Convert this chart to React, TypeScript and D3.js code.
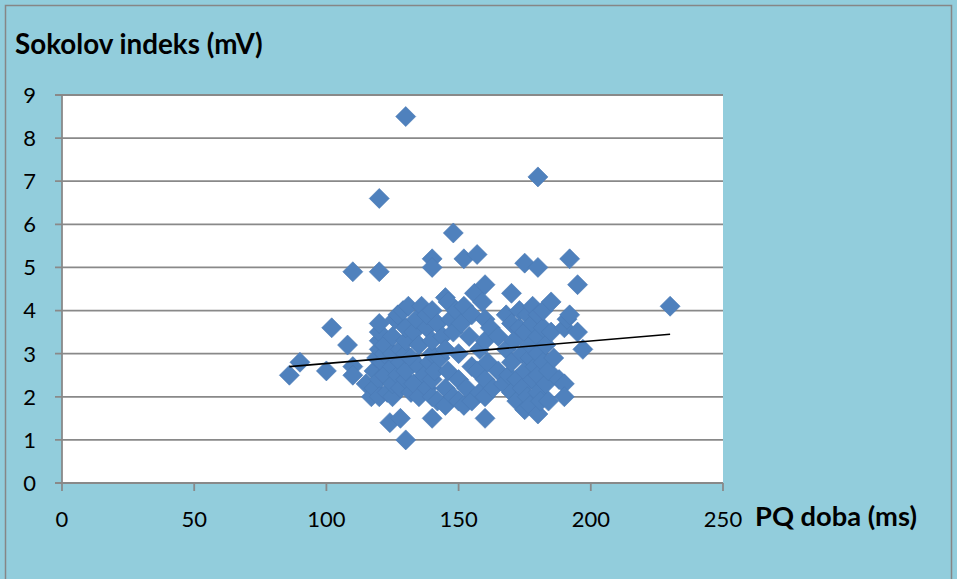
import React from 'react';
import * as d3 from 'd3';

// PQ doba (ms) vs Sokolov indeks (mV)
const pq = [
  86, 90, 100, 102, 108, 110, 110, 110,
  115, 117, 118, 118, 119, 120, 120, 120, 120, 120, 120, 121, 122, 120, 120, 122, 123, 122,
  124, 125, 125, 125, 125, 125, 126, 127, 127, 128, 128, 128, 128, 129, 130, 130, 130, 130, 130, 130, 130,
  131, 132, 132, 133, 133, 134, 135, 135, 135, 136, 137, 138, 138, 138, 139,
  140, 140, 140, 140, 140, 140, 140, 140, 141, 142, 142, 143, 144, 145, 145, 145, 145, 146, 146, 147,
  148, 148, 148, 149, 150, 150, 150, 151, 152, 152, 152, 153, 154, 155, 155, 155, 156, 157, 157, 158, 158, 159,
  160, 160, 160, 160, 160, 160, 161, 162, 163, 165, 165, 167, 168, 168, 169,
  170, 170, 170, 170, 171, 172, 172, 173, 173, 174, 174, 175, 175, 175, 175, 176, 176, 177, 177, 177,
  178, 178, 178, 179, 180, 180, 180, 180, 180, 180, 180, 180, 181, 182, 182, 182, 183, 183, 184, 184,
  185, 185, 186, 188, 190, 190, 190, 191, 192, 192, 195, 195, 197, 230,
];
const sokolov = [
  2.5, 2.8, 2.6, 3.6, 3.2, 2.7, 2.5, 4.9,
  2.3, 2.0, 2.2, 2.6, 2.9, 3.1, 3.3, 3.5, 3.7, 2.4, 2.0, 2.8, 3.0, 4.9, 6.6, 3.2, 2.1, 2.5,
  1.4, 2.0, 2.3, 2.7, 3.0, 3.4, 3.8, 3.9, 2.5, 1.5, 2.2, 3.1, 2.8, 4.0, 1.0, 8.5, 2.4, 2.6, 3.0, 3.3, 3.6,
  4.1, 2.1, 2.9, 3.5, 2.3, 3.8, 2.7, 2.0, 3.2, 4.1, 2.5, 2.2, 3.6, 3.9, 2.8,
  1.5, 5.2, 5.0, 3.0, 3.3, 2.0, 2.4, 4.0, 2.6, 3.7, 1.9, 2.9, 3.4, 1.8, 4.3, 2.2, 3.1, 2.6, 4.2, 3.8,
  5.8, 2.0, 3.5, 4.0, 1.9, 3.0, 2.4, 3.7, 5.2, 1.8, 4.1, 2.2, 3.4, 2.7, 3.9, 1.9, 4.4, 5.3, 2.6, 2.1, 3.1, 4.2,
  1.5, 4.6, 3.8, 2.4, 3.3, 2.0, 2.8, 3.6, 2.2, 2.6, 3.4, 2.3, 3.9, 3.1, 2.5,
  4.4, 3.7, 2.8, 2.1, 3.3, 1.9, 2.4, 3.6, 4.0, 3.0, 2.2, 5.1, 1.7, 2.6, 3.5, 3.9, 2.0, 1.8, 2.9, 3.2,
  4.1, 2.4, 3.7, 2.7, 7.1, 5.0, 1.6, 2.1, 3.0, 3.4, 3.9, 2.5, 1.9, 2.8, 3.6, 4.0, 2.3, 3.2, 1.9, 2.6,
  3.5, 4.2, 2.9, 2.4, 2.3, 2.0, 3.6, 3.8, 5.2, 3.9, 4.6, 3.5, 3.1, 4.1,
];

// linear trendline, as shown in the chart
const trendRange = [86, 230];
const trendIntercept = 2.252;
const trendSlope = 0.00521;

const xTicks = [0, 50, 100, 150, 200, 250];
const yTicks = [0, 1, 2, 3, 4, 5, 6, 7, 8, 9];

const W = 957;
const H = 579;
const margin = { top: 95, right: 234, bottom: 96, left: 62 };
const font = 'Lato, "Open Sans", sans-serif';

export default function App() {
  const x = d3.scaleLinear().domain([0, 250]).range([margin.left, W - margin.right]);
  const y = d3.scaleLinear().domain([0, 9]).range([H - margin.bottom, margin.top]);

  const points = pq.map((v, i) => ({ x: v, y: sokolov[i] }));
  const diamond = d3.symbol(d3.symbolSquare, 200)();
  const trend = d3.line<number>()
    .x(d => x(d))
    .y(d => y(trendIntercept + trendSlope * d));

  const [x0, x1] = x.range();
  const [yb, yt] = y.range();

  return (
    <svg width={W} height={H} style={{ position: 'absolute', left: 0, top: 0 }}>
      <rect x={0} y={0} width={W} height={H} fill="#92CDDC" />
      <rect x={5.5} y={5.5} width={946} height={590} fill="none" stroke="#868686" strokeWidth={1.5} />

      <rect x={x0} y={yt} width={x1 - x0} height={yb - yt} fill="#fff" />

      {yTicks.map(t => (
        <g key={t}>
          <line x1={x0 - 7} x2={x1} y1={y(t)} y2={y(t)} stroke="#898989" strokeWidth={1.8} />
          <text x={36} y={y(t)} dy="0.36em" textAnchor="end" fontFamily={font} fontSize={22} fill="#000">{t}</text>
        </g>
      ))}
      <line x1={x0} x2={x0} y1={yt} y2={yb} stroke="#898989" strokeWidth={1.8} />
      {xTicks.map(t => (
        <g key={t}>
          <line x1={x(t)} x2={x(t)} y1={yb} y2={yb + 8} stroke="#898989" strokeWidth={1.8} />
          <text x={x(t)} y={527} textAnchor="middle" fontFamily={font} fontSize={22} fill="#000">{t}</text>
        </g>
      ))}

      {points.map((p, i) => (
        <path key={i} d={diamond}
          transform={`translate(${x(p.x)},${y(p.y)}) rotate(45)`}
          fill="#4F81BD" stroke="#4A7AB5" strokeWidth={0.6} />
      ))}

      <path d={trend(trendRange) || ''} fill="none" stroke="#000" strokeWidth={1.6} />

      <text x={15} y={54} fontFamily={font} fontSize={27.8} fontWeight="bold" fill="#000">Sokolov indeks (mV)</text>
      <text x={755} y={526} fontFamily={font} fontSize={27.3} fontWeight="bold" fill="#000">PQ doba (ms)</text>
    </svg>
  );
}
